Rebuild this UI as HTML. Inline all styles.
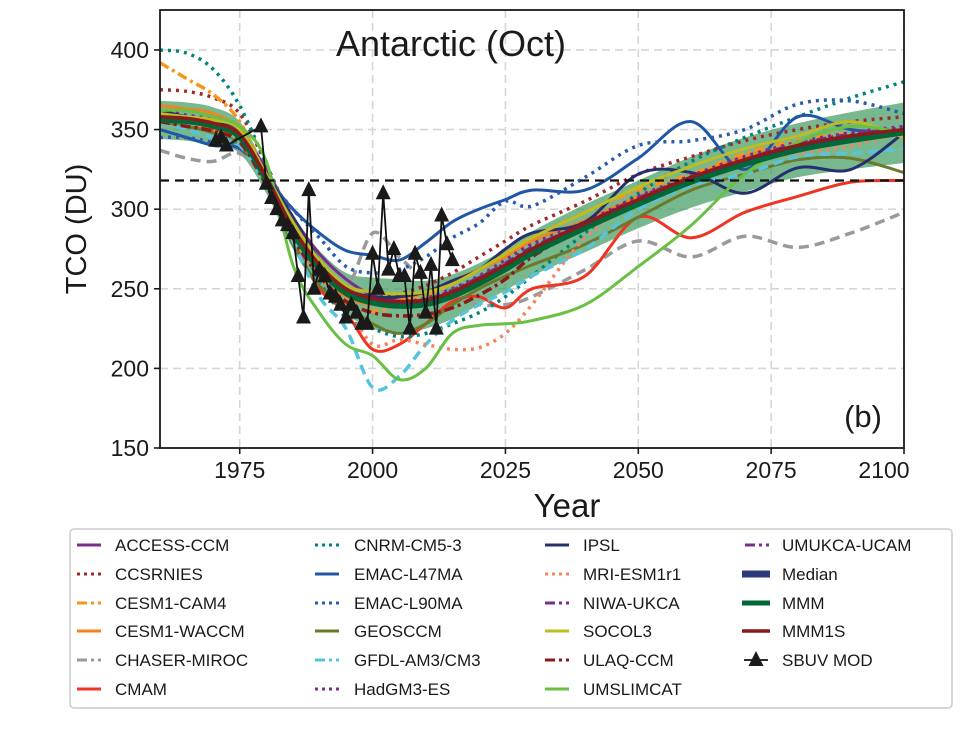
<!DOCTYPE html>
<html><head><meta charset="utf-8"><style>
body{margin:0;background:#fff;}
svg{display:block;font-family:"Liberation Sans",Arial,sans-serif;}
</style></head><body>
<svg id="chart" width="967" height="742" viewBox="0 0 967 742"></svg>
<script>
const years = [1960,1965,1970,1975,1980,1985,1990,1995,2000,2005,2010,2015,2020,2025,2030,2040,2050,2060,2070,2080,2090,2100];
const mmm = [356,355,352,345,318,285,262,247,241,239,240,245,253,262,272,288,303,317,328,337,343,348];
const bandSd = [12,12,12,10,8,10,12,13,16,17,15,14,13,13,14,15,15,16,17,17,18,19];
const median = [357,356,353,346,319,287,263,248,242,240,241,246,254,263,273,289,304,318,329,338,344,348];
const mmm1s = [358,357,354,347,320,288,265,250,244,242,243,248,256,265,275,291,306,320,331,340,346,350];
const access = [360,358,355,348,325,295,272,256,246,243,243,248,257,265,275,290,305,318,330,340,345,348];
const ccsrnies = [375,374,370,360,328,292,265,250,245,247,252,260,270,280,290,305,322,333,343,350,355,358];
const cam4 = [392,382,372,355,320,285,258,242,236,240,246,253,262,272,282,298,312,322,335,343,348,350];
const waccm = [365,363,360,350,320,285,258,245,240,243,248,255,262,270,280,293,308,320,333,340,345,350];
const chaser = [337,332,330,335,318,290,262,250,285,270,255,245,240,240,245,262,280,270,283,276,285,298];
const cmam = [358,352,350,345,318,280,250,235,212,215,228,242,245,238,250,258,295,282,298,308,317,318];
const cnrm = [400,398,388,365,328,290,255,232,225,220,222,228,235,245,258,285,310,330,345,358,370,380];
const emac47 = [350,345,340,338,320,300,285,274,271,268,279,292,300,306,312,312,332,355,325,358,350,348];
const emac90 = [345,345,342,340,320,300,282,264,260,262,270,282,291,305,302,320,340,343,350,366,368,360];
const geos = [355,352,348,340,315,278,252,240,228,222,228,240,250,258,265,278,295,312,322,331,332,323];
const gfdl = [355,350,345,340,315,280,245,225,188,195,215,230,240,248,258,275,300,315,322,333,335,338];
const hadgm = [362,359,356,348,322,290,266,250,244,242,244,250,258,268,278,292,308,321,333,342,348,352];
const ipsl = [362,358,355,350,322,295,268,250,245,245,248,255,262,275,285,292,322,323,310,326,325,348];
const mri = [360,355,350,345,318,285,258,240,215,218,215,212,213,222,240,282,305,318,330,335,340,348];
const niwa = [358,356,353,346,320,290,266,250,243,241,243,249,257,266,276,291,307,320,331,341,347,351];
const socol = [360,358,356,350,322,292,268,252,248,247,248,253,262,272,282,298,314,327,338,346,355,345];
const ulaq = [355,352,349,342,315,282,258,242,235,233,234,238,246,256,270,290,306,320,331,340,346,350];
const umslim = [362,362,358,352,330,265,235,215,208,193,200,222,227,228,230,240,264,290,322,342,352,348];
const umukca = [358,356,352,345,319,288,264,249,242,240,242,247,255,264,274,289,305,318,329,339,345,349];
const sbuvYears = [1970.5,1971.5,1972.5,1979,1980,1981,1982,1983,1984,1985,1986,1987,1988,1989,1990,1991,1992,1993,1994,1995,1996,1997,1998,1999,2000,2001,2002,2003,2004,2005,2006,2007,2008,2009,2010,2011,2012,2013,2014,2015];
const sbuvValues = [343,345,340,352,316,307,300,293,290,285,258,232,312,250,262,258,247,245,240,232,240,235,228,228,272,250,310,262,275,258,258,225,272,260,235,265,225,296,278,268];
const xTicks = [1975,2000,2025,2050,2075,2100];
const yTicks = [150,200,250,300,350,400];

const X0=160,X1=904,Y0=448,Y1=10;
const xs = v => X0 + (v-1960)/(2100-1960)*(X1-X0);
const ys = v => Y0 - (v-150)/(425.1-150)*(Y0-Y1);
const svg = document.getElementById('chart');
const NS='http://www.w3.org/2000/svg';
function mk(tag, attrs, parent){const e=document.createElementNS(NS,tag);for(const k in attrs)e.setAttribute(k,attrs[k]);(parent||svg).appendChild(e);return e;}
function smooth(pts){let d='M'+pts[0][0].toFixed(1)+','+pts[0][1].toFixed(1);
 for(let i=0;i<pts.length-1;i++){const p0=pts[Math.max(0,i-1)],p1=pts[i],p2=pts[i+1],p3=pts[Math.min(pts.length-1,i+2)];
 const c1=[p1[0]+(p2[0]-p0[0])/6,p1[1]+(p2[1]-p0[1])/6],c2=[p2[0]-(p3[0]-p1[0])/6,p2[1]-(p3[1]-p1[1])/6];
 d+=' C'+c1[0].toFixed(1)+','+c1[1].toFixed(1)+' '+c2[0].toFixed(1)+','+c2[1].toFixed(1)+' '+p2[0].toFixed(1)+','+p2[1].toFixed(1);}return d;}

const clip = mk('clipPath',{id:'pc'}); mk('rect',{x:X0,y:Y1,width:X1-X0,height:Y0-Y1},clip);

const grid = mk('g',{});


xTicks.forEach(t=>{const l=mk('line',{x1:xs(t),x2:xs(t),y1:Y1,y2:Y0,stroke:'#d6d6d6','stroke-width':1.6,'stroke-dasharray':'8,5'},grid);
 });
yTicks.slice(1).forEach(t=>{const l=mk('line',{x1:X0,x2:X1,y1:ys(t),y2:ys(t),stroke:'#d6d6d6','stroke-width':1.6,'stroke-dasharray':'8,5'},grid);
 });

const plot = mk('g',{'clip-path':'url(#pc)'});



const up = years.map((y,i)=>[xs(y),ys(mmm[i]+bandSd[i])]);
const lo = years.map((y,i)=>[xs(y),ys(mmm[i]-bandSd[i])]).reverse();
const band = mk('path',{d:smooth(up)+' L'+smooth(lo).slice(1)+' Z',fill:'#3f9a5f','fill-opacity':0.7,stroke:'none'},plot);



const series = [
 ['access-ccm-line',access,'#7b2d8e',3,''],
 ['ccsrnies-line',ccsrnies,'#a3282d',3.5,'3,5'],
 ['cesm1-cam4-line',cam4,'#f7941d',3.5,'10,4,3,4'],
 ['cesm1-waccm-line',waccm,'#f58220',3,''],
 ['chaser-miroc-line',chaser,'#9a9a9a',3.5,'10,6'],
 ['cmam-line',cmam,'#ee3524',3,''],
 ['cnrm-cm5-3-line',cnrm,'#00827f',3.5,'3,5'],
 ['emac-l47ma-line',emac47,'#2156a5',3,''],
 ['emac-l90ma-line',emac90,'#2a5cad',3.5,'3,5'],
 ['geosccm-line',geos,'#6b7a2a',3,''],
 ['gfdl-am3-cm3-line',gfdl,'#56c5dc',3.5,'10,6'],
 ['hadgm3-es-line',hadgm,'#7b2d8e',3.5,'3,5'],
 ['ipsl-line',ipsl,'#26306e',3,''],
 ['mri-esm1r1-line',mri,'#f4845f',3.5,'3,5'],
 ['niwa-ukca-line',niwa,'#7b2d8e',3.5,'10,4,3,4'],
 ['socol3-line',socol,'#bcbd22',3,''],
 ['ulaq-ccm-line',ulaq,'#8b1a1a',3.5,'10,4,3,4'],
 ['umslimcat-line',umslim,'#6abf45',3,''],
 ['umukca-ucam-line',umukca,'#7b2d8e',3.5,'10,4,3,4'],
 ['median-line',median,'#2b3a7a',5,''],
 ['mmm-line',mmm,'#006837',5,''],
 ['mmm1s-line',mmm1s,'#8b1a1a',3.5,'']
];
series.forEach(s=>{const p=mk('path',{d:smooth(years.map((y,i)=>[xs(y),ys(s[1][i])])),fill:'none',stroke:s[2],'stroke-width':s[3],'stroke-dasharray':s[4]||'none','stroke-linejoin':'round'},plot);
 
 });

const ref = mk('line',{x1:X0,x2:X1,y1:ys(318),y2:ys(318),stroke:'#111','stroke-width':2.2,'stroke-dasharray':'9,6'});



const sb = mk('g',{});


mk('polyline',{points:sbuvYears.map((y,i)=>xs(y)+','+ys(sbuvValues[i])).join(' '),fill:'none',stroke:'#111','stroke-width':1.8},sb);
sbuvYears.forEach((y,i)=>{const cx=xs(y),cy=ys(sbuvValues[i]);
 const t=mk('polygon',{points:`${cx},${cy-9} ${cx-7.5},${cy+6} ${cx+7.5},${cy+6}`,fill:'#1a1a1a'},sb);
 
 });

const ax = mk('rect',{x:X0,y:Y1,width:X1-X0,height:Y0-Y1,fill:'none',stroke:'#1a1a1a','stroke-width':1.8});


xTicks.forEach(t=>{mk('line',{x1:xs(t),x2:xs(t),y1:Y0,y2:Y0+6,stroke:'#1a1a1a','stroke-width':1.6});
 const tx=mk('text',{x:t===2100?xs(t)-20:xs(t),y:Y0+30,'text-anchor':'middle','font-size':23,fill:'#1a1a1a'});tx.textContent=t;
 });
yTicks.forEach(t=>{mk('line',{x1:X0-6,x2:X0,y1:ys(t),y2:ys(t),stroke:'#1a1a1a','stroke-width':1.6});
 const tx=mk('text',{x:X0-11,y:ys(t)+8,'text-anchor':'end','font-size':23,fill:'#1a1a1a'});tx.textContent=t;
 });
</script>
<svg style="position:absolute;left:0;top:0" width="967" height="742">
<text x="567" y="517" text-anchor="middle" font-size="33" fill="#1a1a1a" font-family="Liberation Sans, sans-serif">Year</text>
<text transform="translate(86,229) rotate(-90)" text-anchor="middle" font-size="29" fill="#1a1a1a" font-family="Liberation Sans, sans-serif">TCO (DU)</text>
<text x="451" y="56" text-anchor="middle" font-size="36" fill="#1a1a1a" font-family="Liberation Sans, sans-serif">Antarctic (Oct)</text>
<text x="882" y="427" text-anchor="end" font-size="31" fill="#1a1a1a" font-family="Liberation Sans, sans-serif">(b)</text>
<g font-family="Liberation Sans, sans-serif" font-size="17" fill="#1a1a1a">
<rect x="70" y="529" width="882" height="179" rx="4" fill="#fff" stroke="#cccccc" stroke-width="1.5"/>
<g><line x1="77" x2="101" y1="545" y2="545" stroke="#7b2d8e" stroke-width="3"/><text x="115" y="551">ACCESS-CCM</text></g>
<g><line x1="77" x2="101" y1="574" y2="574" stroke="#a3282d" stroke-width="3" stroke-dasharray="3,4"/><text x="115" y="580">CCSRNIES</text></g>
<g><line x1="77" x2="101" y1="603" y2="603" stroke="#f7941d" stroke-width="3" stroke-dasharray="10,4,3,4"/><text x="115" y="609">CESM1-CAM4</text></g>
<g><line x1="77" x2="101" y1="631" y2="631" stroke="#f58220" stroke-width="3"/><text x="115" y="637">CESM1-WACCM</text></g>
<g><line x1="77" x2="101" y1="660" y2="660" stroke="#9a9a9a" stroke-width="3" stroke-dasharray="10,4,3,4"/><text x="115" y="666">CHASER-MIROC</text></g>
<g><line x1="77" x2="101" y1="689" y2="689" stroke="#ee3524" stroke-width="3"/><text x="115" y="695">CMAM</text></g>
<g><line x1="315" x2="339" y1="545" y2="545" stroke="#00827f" stroke-width="3" stroke-dasharray="3,4"/><text x="354" y="551">CNRM-CM5-3</text></g>
<g><line x1="315" x2="339" y1="574" y2="574" stroke="#2156a5" stroke-width="3"/><text x="354" y="580">EMAC-L47MA</text></g>
<g><line x1="315" x2="339" y1="603" y2="603" stroke="#2a5cad" stroke-width="3" stroke-dasharray="3,4"/><text x="354" y="609">EMAC-L90MA</text></g>
<g><line x1="315" x2="339" y1="631" y2="631" stroke="#6b7a2a" stroke-width="3"/><text x="354" y="637">GEOSCCM</text></g>
<g><line x1="315" x2="339" y1="660" y2="660" stroke="#56c5dc" stroke-width="3" stroke-dasharray="10,4,3,4"/><text x="354" y="666">GFDL-AM3/CM3</text></g>
<g><line x1="315" x2="339" y1="689" y2="689" stroke="#7b2d8e" stroke-width="3" stroke-dasharray="3,4"/><text x="354" y="695">HadGM3-ES</text></g>
<g><line x1="545" x2="569" y1="545" y2="545" stroke="#26306e" stroke-width="3"/><text x="583" y="551">IPSL</text></g>
<g><line x1="545" x2="569" y1="574" y2="574" stroke="#f4845f" stroke-width="3" stroke-dasharray="3,4"/><text x="583" y="580">MRI-ESM1r1</text></g>
<g><line x1="545" x2="569" y1="603" y2="603" stroke="#7b2d8e" stroke-width="3" stroke-dasharray="10,4,3,4"/><text x="583" y="609">NIWA-UKCA</text></g>
<g><line x1="545" x2="569" y1="631" y2="631" stroke="#bcbd22" stroke-width="3"/><text x="583" y="637">SOCOL3</text></g>
<g><line x1="545" x2="569" y1="660" y2="660" stroke="#8b1a1a" stroke-width="3" stroke-dasharray="10,4,3,4"/><text x="583" y="666">ULAQ-CCM</text></g>
<g><line x1="545" x2="569" y1="689" y2="689" stroke="#6abf45" stroke-width="3"/><text x="583" y="695">UMSLIMCAT</text></g>
<g><line x1="745" x2="769" y1="545" y2="545" stroke="#7b2d8e" stroke-width="3" stroke-dasharray="10,4,3,4"/><text x="782" y="551">UMUKCA-UCAM</text></g>
<g><line x1="742" x2="770" y1="574" y2="574" stroke="#2b3a7a" stroke-width="7"/><text x="782" y="580">Median</text></g>
<g><line x1="742" x2="770" y1="603" y2="603" stroke="#006837" stroke-width="5"/><text x="782" y="609">MMM</text></g>
<g><line x1="742" x2="770" y1="631" y2="631" stroke="#8b1a1a" stroke-width="3.5"/><text x="782" y="637">MMM1S</text></g>
<g><line x1="744" x2="768" y1="660" y2="660" stroke="#111" stroke-width="1.8"/><polygon points="756,651 748.5,666 763.5,666" fill="#1a1a1a"/><text x="782" y="666">SBUV MOD</text></g>
</g>
</svg>
</body></html>
